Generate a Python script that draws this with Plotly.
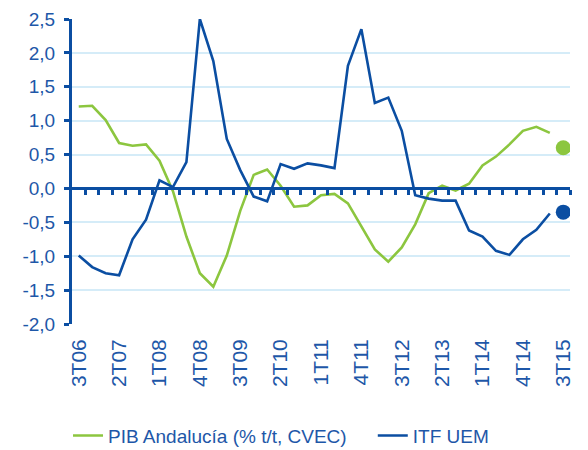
import plotly.graph_objects as go

quarters = ["3T06", "4T06", "1T07", "2T07", "3T07", "4T07", "1T08", "2T08", "3T08", "4T08",
            "1T09", "2T09", "3T09", "4T09", "1T10", "2T10", "3T10", "4T10", "1T11", "2T11",
            "3T11", "4T11", "1T12", "2T12", "3T12", "4T12", "1T13", "2T13", "3T13", "4T13",
            "1T14", "2T14", "3T14", "4T14", "1T15", "2T15", "3T15"]
tick_labels = ["3T06", "2T07", "1T08", "4T08", "3T09", "2T10", "1T11", "4T11", "3T12",
               "2T13", "1T14", "4T14", "3T15"]
y_tick_values = [-2.0, -1.5, -1.0, -0.5, 0.0, 0.5, 1.0, 1.5, 2.0, 2.5]
y_tick_labels = ["-2,0", "-1,5", "-1,0", "-0,5", "0,0", "0,5", "1,0", "1,5", "2,0", "2,5"]

pib_andalucia = [1.21, 1.22, 1.01, 0.67, 0.63, 0.65, 0.41, -0.04, -0.71, -1.25,
                 -1.45, -0.99, -0.33, 0.20, 0.28, 0.04, -0.27, -0.25, -0.10, -0.08,
                 -0.22, -0.55, -0.90, -1.08, -0.87, -0.53, -0.07, 0.04, -0.03, 0.07,
                 0.34, 0.47, 0.65, 0.85, 0.91, 0.82]
itf_uem = [-0.99, -1.16, -1.25, -1.28, -0.75, -0.46, 0.12, 0.02, 0.39, 2.50,
           1.88, 0.73, 0.27, -0.12, -0.19, 0.36, 0.29, 0.37, 0.34, 0.30,
           1.81, 2.35, 1.26, 1.34, 0.85, -0.10, -0.15, -0.18, -0.18, -0.62,
           -0.71, -0.92, -0.98, -0.75, -0.61, -0.37]
pib_forecast_q = ["3T15"]
pib_forecast = [0.60]
itf_forecast_q = ["3T15"]
itf_forecast = [-0.35]

GREEN = "#8CC63F"
BLUE = "#0B4EA2"
TEXT = "#1E57A8"
GRID = "#D5ECF8"
FONT = "Liberation Sans, Arial, sans-serif"
PAD = "\u00a0" * 4  # spacing after the first legend entry

n = len(quarters)
fig = go.Figure()
fig.add_trace(go.Scatter(x=quarters[:len(pib_andalucia)], y=pib_andalucia, mode="lines",
                         name="PIB Andalucía (% t/t, CVEC)" + PAD,
                         line=dict(color=GREEN, width=2.6)))
fig.add_trace(go.Scatter(x=quarters[:len(itf_uem)], y=itf_uem, mode="lines",
                         name="ITF UEM",
                         line=dict(color=BLUE, width=2.6)))
fig.add_trace(go.Scatter(x=pib_forecast_q, y=pib_forecast, mode="markers",
                         marker=dict(color=GREEN, size=15), showlegend=False))
fig.add_trace(go.Scatter(x=itf_forecast_q, y=itf_forecast, mode="markers",
                         marker=dict(color=BLUE, size=15), showlegend=False))
# helper trace for the zero-line axis with tick marks
fig.add_trace(go.Scatter(x=[0], y=[None], xaxis="x2", mode="lines",
                         showlegend=False, hoverinfo="skip"))

ymin, ymax = -2.0, 2.5
fig.update_layout(
    template="none",
    width=588, height=458, autosize=False,
    margin=dict(l=64, r=26, t=11, b=136, pad=0),
    paper_bgcolor="white", plot_bgcolor="white",
    font=dict(family=FONT, size=19, color=TEXT),
    xaxis=dict(type="category", categoryorder="array", categoryarray=quarters,
               range=[-0.5, n - 0.5], tickmode="array", tickvals=tick_labels,
               ticktext=tick_labels, tickangle=-90, showgrid=False, showline=False,
               zeroline=False, ticks="", ticklabelstandoff=10, automargin=False,
               tickfont=dict(size=21, color=TEXT)),
    xaxis2=dict(overlaying="x", anchor="free", position=(0 - ymin) / (ymax - ymin),
                range=[-0.5, n - 0.5], tickmode="array",
                tickvals=[i + 0.5 for i in range(n)], showticklabels=False,
                showline=True, linecolor=BLUE, linewidth=3, ticks="outside",
                ticklen=5, tickwidth=3, tickcolor=BLUE, showgrid=False, zeroline=False,
                automargin=False),
    yaxis=dict(range=[ymin, ymax], tickmode="array", tickvals=y_tick_values,
               ticktext=y_tick_labels,
               showgrid=True, gridcolor=GRID, gridwidth=1.5, zeroline=False,
               showline=True, linecolor=BLUE, linewidth=3, ticks="outside",
               ticklen=5, tickwidth=3, tickcolor=BLUE, automargin=False,
               ticklabelstandoff=5,
               tickfont=dict(size=19, color=TEXT)),
    legend=dict(orientation="h", x=-0.008, xanchor="left", y=-0.366, yanchor="middle",
                font=dict(size=19, color=TEXT), bgcolor="rgba(0,0,0,0)"),
    showlegend=True,
)

fig.write_html("out.html")
